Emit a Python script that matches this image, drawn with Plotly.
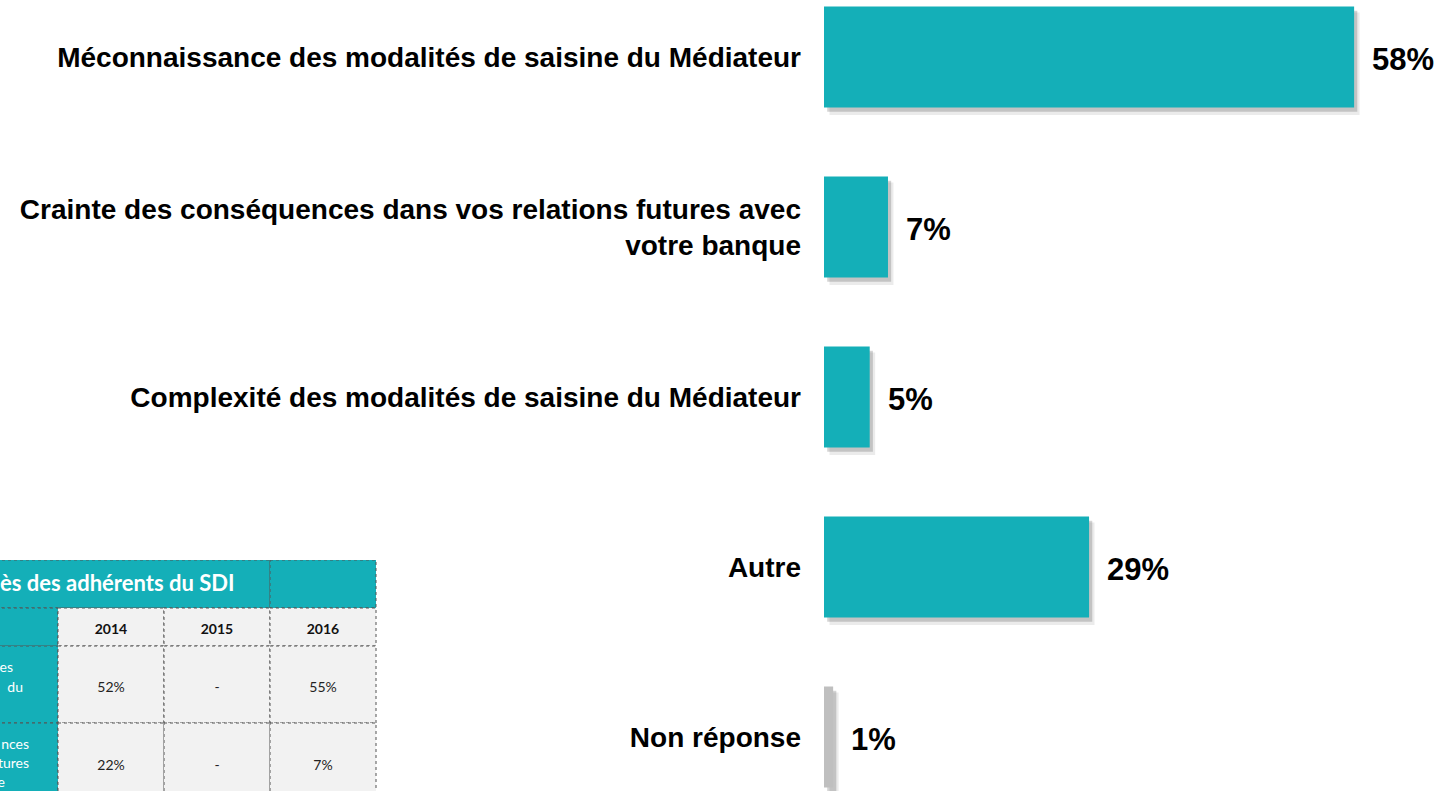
import plotly.graph_objects as go

# ---- main chart data ----
categories = [
    "Méconnaissance des modalités de saisine du Médiateur",
    "Crainte des conséquences dans vos relations futures avec<br>votre banque",
    "Complexité des modalités de saisine du Médiateur",
    "Autre",
    "Non réponse",
]
values = [58, 7, 5, 29, 1]
bar_colors = ["#14AFB8", "#14AFB8", "#14AFB8", "#14AFB8", "#BFBFBF"]

# ---- inset table data (visible, cropped part) ----
table_title = "ès des adhérents du SDI"
years = ["2014", "2015", "2016"]
row1_vals = ["52%", "-", "55%"]
row2_vals = ["22%", "-", "7%"]
row1_label_frag = ["es", "du"]
row2_label_frag = ["nces", "tures", "e"]

W, H = 1445, 791
TEAL = "#14AFB8"
FONT = "Arial, Liberation Sans, sans-serif"

fig = go.Figure()

BAR_W = 0.594
# soft shadow (two layers)
fig.add_trace(go.Bar(
    y=categories, x=values, base=0.6, orientation="h",
    width=BAR_W + 0.01, offset=-BAR_W / 2 + 0.035,
    marker=dict(color="rgba(0,0,0,0.08)", line=dict(width=0)),
    hoverinfo="skip", showlegend=False,
))
fig.add_trace(go.Bar(
    y=categories, x=values, base=0.35, orientation="h",
    width=BAR_W, offset=-BAR_W / 2 + 0.025,
    marker=dict(color="rgba(0,0,0,0.17)", line=dict(width=0)),
    hoverinfo="skip", showlegend=False,
))
fig.add_trace(go.Bar(
    y=categories, x=values, orientation="h",
    width=BAR_W, offset=-BAR_W / 2,
    marker=dict(color=bar_colors, line=dict(width=0)),
    showlegend=False,
))

for c, v in zip(categories, values):
    fig.add_annotation(
        x=v, y=c, xref="x", yref="y", text=f"{v}%", showarrow=False,
        xanchor="left", xshift=16, yshift=-3,
        font=dict(family=FONT, size=31, color="#000000", weight="bold"),
    )

fig.update_layout(
    width=W, height=H,
    margin=dict(l=0, r=0, t=0, b=0),
    paper_bgcolor="white", plot_bgcolor="white",
    barmode="overlay",
    xaxis=dict(domain=[824 / W, 1], range=[0, 621 / 9.14], visible=False),
    yaxis=dict(
        domain=[0, 1], type="category", range=[4.318, -0.335],
        showgrid=False, zeroline=False, showline=False, ticks="",
        ticklabelstandoff=22,
        tickfont=dict(family=FONT, size=28, color="#000000", weight="bold"),
    ),
)

# ---- inset table on its own axes (pixel-like units, origin at top-left of table) ----
TX0, TY0 = 0, 560
TW, TH = 377, H - TY0
fig.update_layout(
    xaxis2=dict(domain=[TX0 / W, (TX0 + TW) / W], range=[0, TW], visible=False,
                anchor="y2", fixedrange=True),
    yaxis2=dict(domain=[0, TH / H], range=[TH, 0], visible=False,
                anchor="x2", fixedrange=True),
)

col_x = [0, 58, 164, 270, 376]
row_y = [0, 48, 86, 163, 250]
border = dict(color="#555555", width=1, dash="dot")

def rect(x0, y0, x1, y1, fill):
    fig.add_shape(type="rect", xref="x2", yref="y2", x0=x0, y0=y0, x1=x1, y1=y1,
                  fillcolor=fill, line=border, layer="below")

# header row: merged teal cell + one teal cell
rect(-10, row_y[0], col_x[3], row_y[1], TEAL)
rect(col_x[3], row_y[0], col_x[4], row_y[1], TEAL)
# first column teal
for r in range(1, 4):
    rect(-10, row_y[r], col_x[1], row_y[r + 1], TEAL)
# gray cells
for r in range(1, 4):
    for c in range(1, 4):
        rect(col_x[c], row_y[r], col_x[c + 1], row_y[r + 1], "#F2F2F2")

centers = [(col_x[c] + col_x[c + 1]) / 2 for c in range(1, 4)]
TFONT = "Lato, Open Sans, sans-serif"

fig.add_trace(go.Scatter(
    x=[0], y=[25], xaxis="x2", yaxis="y2", mode="text", text=[table_title],
    textposition="middle right", cliponaxis=True, hoverinfo="skip", showlegend=False,
    textfont=dict(family=TFONT, size=22, color="white", weight="bold"),
))
fig.add_trace(go.Scatter(
    x=centers, y=[70] * 3, xaxis="x2", yaxis="y2", mode="text", text=years,
    hoverinfo="skip", showlegend=False,
    textfont=dict(family=TFONT, size=14, color="#111111", weight="bold"),
))
fig.add_trace(go.Scatter(
    x=centers + centers, y=[128] * 3 + [206] * 3, xaxis="x2", yaxis="y2", mode="text",
    text=row1_vals + row2_vals, hoverinfo="skip", showlegend=False,
    textfont=dict(family=TFONT, size=14, color="#222222"),
))
fig.add_trace(go.Scatter(
    x=[13, 23, 29, 29, 5], y=[108, 128, 185, 204, 223], xaxis="x2", yaxis="y2", mode="text",
    text=row1_label_frag + row2_label_frag, textposition="middle left", cliponaxis=True,
    hoverinfo="skip", showlegend=False,
    textfont=dict(family=TFONT, size=14, color="white"),
))

fig.write_html(
    "out.html",
    config={"displayModeBar": False},
    post_script="document.body.style.margin='0';document.body.style.overflow='hidden';",
)
